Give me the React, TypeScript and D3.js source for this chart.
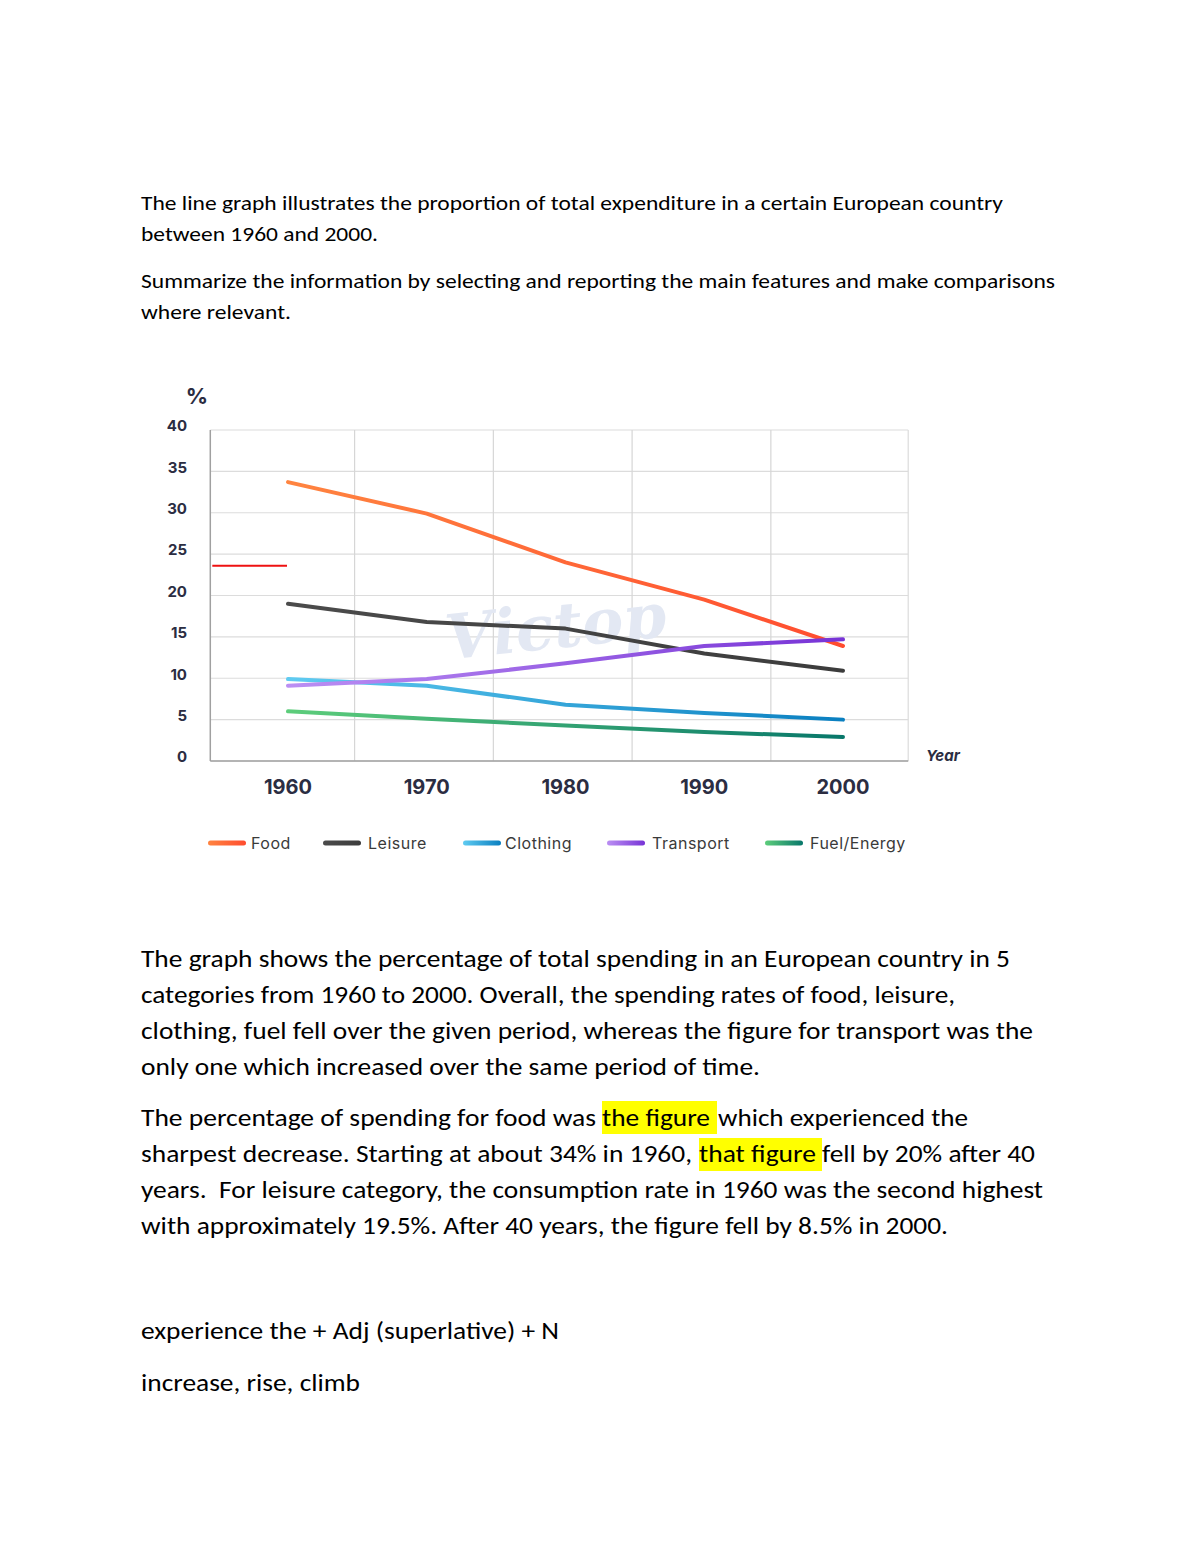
import * as React from 'react';
import * as d3 from 'd3';

// chart values (% of total expenditure)
const years = [1960, 1970, 1980, 1990, 2000];
const food = [33.7, 29.9, 24.0, 19.5, 13.9];
const leisure = [19.0, 16.8, 16.0, 13.0, 10.9];
const clothing = [9.9, 9.1, 6.8, 5.8, 5.0];
const transport = [9.1, 9.9, 11.8, 13.9, 14.7];
const fuel = [6.0, 5.1, 4.3, 3.5, 2.9];
const yTicks = [0, 5, 10, 15, 20, 25, 30, 35, 40];
const gridYears = [1964.8, 1974.8, 1984.8, 1994.8];
const frameYears = [1954.4, 2004.7];
const redMark = 23.6;

const series = [
  { name: 'Food', values: food, from: '#ff8440', to: '#ff4c2f', legendX: 208 },
  { name: 'Leisure', values: leisure, from: '#4b4b4b', to: '#3c3c3c', legendX: 323 },
  { name: 'Clothing', values: clothing, from: '#5fcbf1', to: '#0a7fc0', legendX: 463 },
  { name: 'Transport', values: transport, from: '#bb8ff3', to: '#7733d6', legendX: 607 },
  { name: 'Fuel/Energy', values: fuel, from: '#5dcd7b', to: '#08776a', legendX: 765 },
];

const introLines = [
  { t: 'The line graph illustrates the proportion of total expenditure in a certain European country', y: 210, w: 862 },
  { t: 'between 1960 and 2000.', y: 241, w: 237 },
  { t: 'Summarize the information by selecting and reporting the main features and make comparisons', y: 288, w: 914 },
  { t: 'where relevant.', y: 319, w: 150 },
];

type Seg = { t: string; x0: number; x1: number };
const bodyLines: { y: number; segs: Seg[] }[] = [
  { y: 967, segs: [{ t: 'The graph shows the percentage of total spending in an European country in 5', x0: 141, x1: 1010 }] },
  { y: 1003, segs: [{ t: 'categories from 1960 to 2000. Overall, the spending rates of food, leisure,', x0: 141, x1: 955 }] },
  { y: 1039, segs: [{ t: 'clothing, fuel fell over the given period, whereas the figure for transport was the', x0: 141, x1: 1033 }] },
  { y: 1075, segs: [{ t: 'only one which increased over the same period of time.', x0: 141, x1: 760 }] },
  {
    y: 1126,
    segs: [
      { t: 'The percentage of spending for food was', x0: 141, x1: 596 },
      { t: 'the figure', x0: 602, x1: 710 },
      { t: 'which experienced the', x0: 718, x1: 968 },
    ],
  },
  {
    y: 1162,
    segs: [
      { t: 'sharpest decrease. Starting at about 34% in 1960,', x0: 141, x1: 692 },
      { t: 'that figure', x0: 699, x1: 816 },
      { t: 'fell by 20% after 40', x0: 822, x1: 1035 },
    ],
  },
  { y: 1198, segs: [{ t: 'years.  For leisure category, the consumption rate in 1960 was the second highest', x0: 141, x1: 1043 }] },
  { y: 1234, segs: [{ t: 'with approximately 19.5%. After 40 years, the figure fell by 8.5% in 2000.', x0: 141, x1: 948 }] },
  { y: 1339, segs: [{ t: 'experience the + Adj (superlative) + N', x0: 141, x1: 559 }] },
  { y: 1391, segs: [{ t: 'increase, rise, climb', x0: 141, x1: 360 }] },
];

const hlBoxes = [
  { x0: 602, x1: 717, y0: 1101, y1: 1134 },
  { x0: 699, x1: 822, y0: 1138, y1: 1171 },
];

const docFont = 'Carlito, Calibri, Lato, sans-serif';
const chartFont = 'Inter, Roboto, sans-serif';
const ink = '#2b2d42';

export default function App() {
  const x = d3.scaleLinear().domain([1960, 2000]).range([288, 843]);
  const y = d3.scaleLinear().domain([0, 40]).range([761, 430]);
  const line = d3
    .line<number>()
    .x((_, i) => x(years[i]))
    .y((d) => y(d))
    .curve(d3.curveLinear);

  const left = x(frameYears[0]);
  const right = x(frameYears[1]);

  return (
    <svg
      width={1200}
      height={1553}
      style={{ position: 'absolute', left: 0, top: 0, background: '#fff' }}
    >
      <defs>
        {series.map((s, i) => (
          <linearGradient
            key={s.name}
            id={`g${i}`}
            gradientUnits="userSpaceOnUse"
            x1={x(1960)}
            x2={x(2000)}
            y1={0}
            y2={0}
          >
            <stop offset="0" stopColor={s.from} />
            <stop offset="1" stopColor={s.to} />
          </linearGradient>
        ))}
        {series.map((s, i) => (
          <linearGradient key={s.name} id={`lg${i}`}>
            <stop offset="0" stopColor={s.from} />
            <stop offset="1" stopColor={s.to} />
          </linearGradient>
        ))}
      </defs>

      {/* task text */}
      {introLines.map((l) => (
        <text
          key={l.t}
          x={141}
          y={l.y}
          fontFamily={docFont}
          fontSize={21}
          fill="#000"
          textLength={l.w}
          lengthAdjust="spacingAndGlyphs"
        >
          {l.t}
        </text>
      ))}

      {/* grid */}
      <g>
        {yTicks.map((t) => (
          <line key={t} x1={left} x2={right} y1={y(t)} y2={y(t)} stroke="#dcdcdc" strokeWidth={1.2} />
        ))}
        {gridYears.map((g) => (
          <line key={g} x1={x(g)} x2={x(g)} y1={y(40)} y2={y(0)} stroke="#d6d6d6" strokeWidth={1.2} />
        ))}
        <line x1={right} x2={right} y1={y(40)} y2={y(0)} stroke="#dcdcdc" strokeWidth={1.2} />
        <line x1={left} x2={left} y1={y(40)} y2={y(0)} stroke="#a0a0a0" strokeWidth={1.5} />
        <line x1={left} x2={right} y1={y(0)} y2={y(0)} stroke="#a0a0a0" strokeWidth={1.5} />
      </g>

      {/* watermark */}
      <text
        x={555}
        y={648}
        textAnchor="middle"
        fontFamily="DejaVu Serif, serif"
        fontStyle="italic"
        fontWeight={700}
        fontSize={62}
        fill="#e3e8f3"
        transform="rotate(-6 555 620)"
      >
        Victop
      </text>

      <line x1={left + 2} x2={x(1960) - 1} y1={y(redMark)} y2={y(redMark)} stroke="#ee1111" strokeWidth={2} />

      {/* series */}
      {series.map((s, i) => (
        <path
          key={s.name}
          d={line(s.values) || ''}
          fill="none"
          stroke={`url(#g${i})`}
          strokeWidth={4}
          strokeLinejoin="round"
          strokeLinecap="round"
        />
      ))}

      {/* y axis labels */}
      {yTicks.map((t) => (
        <text
          key={t}
          x={187}
          y={y(t) - 4}
          dy="0.35em"
          textAnchor="end"
          fontFamily={chartFont}
          fontWeight={700}
          fontSize={15}
          fill={ink}
        >
          {t}
        </text>
      ))}
      <text x={197} y={404} textAnchor="middle" fontFamily={chartFont} fontWeight={700} fontSize={22} fill={ink}>
        %
      </text>

      {/* x axis labels */}
      {years.map((yr) => (
        <text
          key={yr}
          x={x(yr)}
          y={794}
          textAnchor="middle"
          fontFamily={chartFont}
          fontWeight={700}
          fontSize={20}
          fill={ink}
        >
          {yr}
        </text>
      ))}
      <text x={926} y={761} fontFamily={chartFont} fontWeight={700} fontStyle="italic" fontSize={15} fill={ink}>
        Year
      </text>

      {/* legend */}
      {series.map((s, i) => (
        <g key={s.name} transform={`translate(${s.legendX},843)`}>
          <rect x={0} y={-2.5} width={38} height={5} rx={2.5} fill={`url(#lg${i})`} />
          <text
            x={s.name === 'Food' ? 43 : s.name === 'Clothing' ? 42 : 45}
            y={0}
            dy="0.35em"
            fontFamily={chartFont}
            fontSize={16}
            fill="#3a3a3a"
            letterSpacing={0.5}
          >
            {s.name}
          </text>
        </g>
      ))}

      {/* answer text */}
      {hlBoxes.map((b, i) => (
        <rect key={i} x={b.x0} y={b.y0} width={b.x1 - b.x0} height={b.y1 - b.y0} fill="#ffff00" />
      ))}
      {bodyLines.map((l) =>
        l.segs.map((s) => (
          <text
            key={s.t}
            x={s.x0}
            y={l.y}
            fontFamily={docFont}
            fontSize={24.5}
            fill="#000"
            textLength={s.x1 - s.x0}
            lengthAdjust="spacingAndGlyphs"
            style={{ whiteSpace: 'pre' }}
          >
            {s.t}
          </text>
        ))
      )}
    </svg>
  );
}
